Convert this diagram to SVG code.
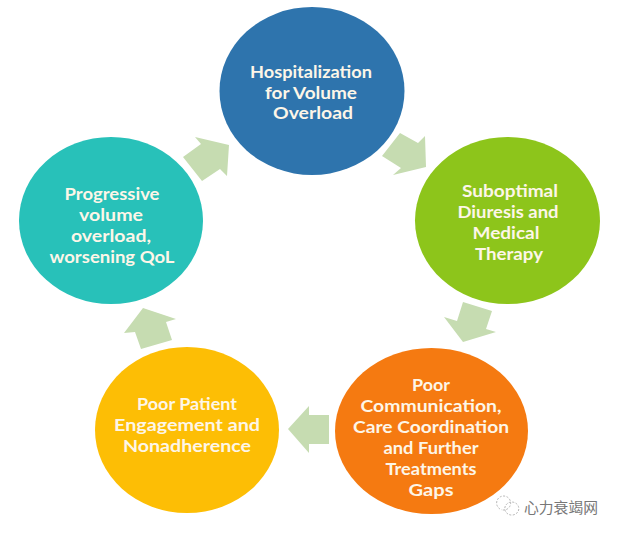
<svg xmlns="http://www.w3.org/2000/svg" width="618" height="534" viewBox="0 0 618 534">
<style>
text{font-family:"Lato","Open Sans","Liberation Sans",sans-serif;font-weight:700;font-size:17.5px;fill:#fdf6e8;text-anchor:middle}
.arrow{fill:#c6dcb1}
#watermark text{font-family:"Noto Sans CJK SC",sans-serif;font-weight:400;font-size:14.5px;fill:#777;text-anchor:start}
#watermark path{fill:none;stroke:#b5b5b5;stroke-width:1;stroke-dasharray:2 1.5}
</style>
<rect width="618" height="534" fill="#fff"/>
<g id="connectors">
<polygon class="arrow" points="229,145 195,137 201,144 183,157 202,181 220,169 227,176"/>
<polygon class="arrow" points="400,133 418,143 425,136 426,167 393,175 401,168 382,156"/>
<polygon class="arrow" points="463,302 492,311 486,329 496,332 463,342 444,317 457,321"/>
<polygon class="arrow" points="288,429 309,406 309,415 329,415 329,444 309,444 309,453"/>
<polygon class="arrow" points="143,308 176,319 166,322 172,340 141,349 135,332 124,333"/>
</g>
<g id="node-hospitalization">
<ellipse cx="312" cy="91" rx="92.500" ry="84" fill="#2e74ad"/>
<text x="311" y="77.500" textLength="122" lengthAdjust="spacingAndGlyphs">Hospitalization</text>
<text x="311" y="98.500" textLength="92" lengthAdjust="spacingAndGlyphs">for Volume</text>
<text x="313" y="118.500" textLength="80" lengthAdjust="spacingAndGlyphs">Overload</text>
</g>
<g id="node-suboptimal">
<ellipse cx="507.500" cy="220.500" rx="92.500" ry="83.500" fill="#8dc51b"/>
<text x="510" y="196.500" textLength="96" lengthAdjust="spacingAndGlyphs">Suboptimal</text>
<text x="508" y="217.500" textLength="101" lengthAdjust="spacingAndGlyphs">Diuresis and</text>
<text x="506" y="238.500" textLength="67" lengthAdjust="spacingAndGlyphs">Medical</text>
<text x="509" y="259.500" textLength="68" lengthAdjust="spacingAndGlyphs">Therapy</text>
</g>
<g id="node-communication">
<ellipse cx="431.500" cy="431" rx="96.500" ry="83" fill="#f57a11"/>
<text x="431" y="390.500" textLength="38" lengthAdjust="spacingAndGlyphs">Poor</text>
<text x="431" y="411.500" textLength="141" lengthAdjust="spacingAndGlyphs">Communication,</text>
<text x="431" y="432.500" textLength="156" lengthAdjust="spacingAndGlyphs">Care Coordination</text>
<text x="431" y="453.500" textLength="95" lengthAdjust="spacingAndGlyphs">and Further</text>
<text x="431" y="474.500" textLength="91" lengthAdjust="spacingAndGlyphs">Treatments</text>
<text x="431" y="495.500" textLength="45" lengthAdjust="spacingAndGlyphs">Gaps</text>
</g>
<g id="node-engagement">
<ellipse cx="187" cy="430" rx="92" ry="83" fill="#fdbe05"/>
<text x="187" y="409.500" textLength="100" lengthAdjust="spacingAndGlyphs">Poor Patient</text>
<text x="187" y="430.500" textLength="146" lengthAdjust="spacingAndGlyphs">Engagement and</text>
<text x="187" y="451.500" textLength="128" lengthAdjust="spacingAndGlyphs">Nonadherence</text>
</g>
<g id="node-progressive">
<ellipse cx="111" cy="220.500" rx="92" ry="83.500" fill="#28c1b9"/>
<text x="112" y="199.500" textLength="95" lengthAdjust="spacingAndGlyphs">Progressive</text>
<text x="111" y="220.500" textLength="64" lengthAdjust="spacingAndGlyphs">volume</text>
<text x="111" y="241.500" textLength="80" lengthAdjust="spacingAndGlyphs">overload,</text>
<text x="112" y="262.500" textLength="125" lengthAdjust="spacingAndGlyphs">worsening QoL</text>
</g>
<g id="watermark">
<path d="M500 509a7 7 0 1 1 1 0.500"/>
<path d="M508 514a7 6.500 0 1 1 1 0.500"/>
<text x="524" y="512.500" textLength="74" lengthAdjust="spacingAndGlyphs">心力衰竭网</text>
</g>
</svg>
